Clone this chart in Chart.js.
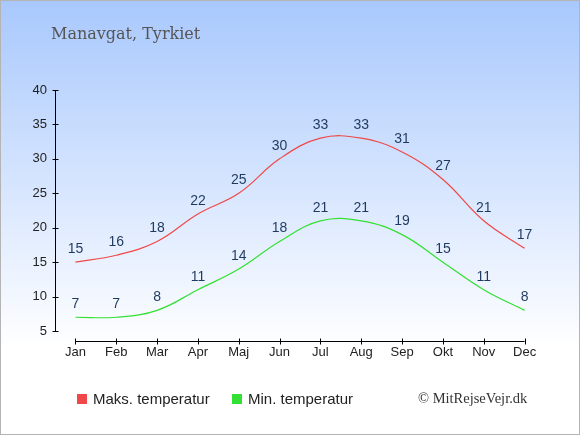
<!DOCTYPE html>
<html>
<head>
<meta charset="utf-8">
<script src="https://cdn.jsdelivr.net/npm/chart.js@4/dist/chart.umd.min.js"></script>
<style>
  html, body { margin: 0; padding: 0; background: #fff; }
  #wrap { width: 580px; height: 435px; }
</style>
</head>
<body>
<div id="wrap"><canvas id="tempChart" width="580" height="435"></canvas></div>
<script>
/* ========= DATA ========= */
const MONTHS = ["Jan", "Feb", "Mar", "Apr", "Maj", "Jun", "Jul", "Aug", "Sep", "Okt", "Nov", "Dec"];
const MAX_TEMP = [15, 16, 18, 22, 25, 30, 33, 33, 31, 27, 21, 17];
const MIN_TEMP = [7, 7, 8, 11, 14, 18, 21, 21, 19, 15, 11, 8];
const Y_TICKS = [5, 10, 15, 20, 25, 30, 35, 40];

const TITLE = "Manavgat, Tyrkiet";
const CREDIT = "\u00A9 MitRejseVejr.dk";

const RED = "#f04848";
const GREEN = "#33e033";
const SANS = "'Liberation Sans', Arial, sans-serif";

/* ========= DECORATION PLUGIN ========= */
const decorPlugin = {
  id: "decor",
  beforeDraw(chart) {
    const ctx = chart.ctx;
    const w = chart.width, h = chart.height;
    const g = ctx.createLinearGradient(0, 0, 0, h);
    g.addColorStop(0, "#a8c8fd");
    g.addColorStop(0.8, "#ffffff");
    g.addColorStop(1, "#ffffff");
    ctx.save();
    ctx.fillStyle = g;
    ctx.fillRect(0, 0, w, h);

    // title
    ctx.fillStyle = "#555555";
    ctx.font = "16px 'DejaVu Serif', serif";
    ctx.textAlign = "left";
    ctx.textBaseline = "alphabetic";
    ctx.fillText(TITLE, 51, 39);
    ctx.restore();
  },
  afterDraw(chart) {
    const ctx = chart.ctx;
    const xs = chart.scales.x;
    const ys = chart.scales.y;
    ctx.save();

    // y axis line + ticks
    const ax = Math.round(chart.chartArea.left) + 0.5;
    ctx.strokeStyle = "#000";
    ctx.lineWidth = 1;
    ctx.beginPath();
    ctx.moveTo(ax, ys.getPixelForValue(40));
    ctx.lineTo(ax, ys.getPixelForValue(5));
    Y_TICKS.forEach(v => {
      const y = Math.round(ys.getPixelForValue(v)) + 0.5;
      ctx.moveTo(ax - 3, y);
      ctx.lineTo(ax + 3, y);
    });
    ctx.stroke();

    // x axis line + ticks (Jan..Dec)
    const ay = Math.round(chart.chartArea.bottom) + 10.5;
    ctx.beginPath();
    ctx.moveTo(xs.getPixelForValue(0), ay);
    ctx.lineTo(xs.getPixelForValue(MONTHS.length - 1), ay);
    MONTHS.forEach((m, i) => {
      const x = Math.round(xs.getPixelForValue(i)) + 0.5;
      ctx.moveTo(x, ay - 3);
      ctx.lineTo(x, ay + 3);
    });
    ctx.stroke();

    // legend
    ctx.font = "15px " + SANS;
    ctx.textBaseline = "alphabetic";
    ctx.textAlign = "left";
    const legendX = [77, 232];
    chart.data.datasets.forEach((ds, i) => {
      ctx.fillStyle = ds.borderColor;
      ctx.fillRect(legendX[i], 394, 10, 10);
      ctx.fillStyle = "#222";
      ctx.fillText(ds.label, legendX[i] + 16, 404);
    });

    // credit
    ctx.fillStyle = "#333";
    ctx.font = "14.5px 'Liberation Serif', serif";
    ctx.fillText(CREDIT, 418, 403);

    // border
    ctx.strokeStyle = "#b4b4b4";
    ctx.strokeRect(0.5, 0.5, chart.width - 1, chart.height - 1);
    ctx.restore();
  },
  afterDatasetsDraw(chart) {
    const ctx = chart.ctx;
    ctx.save();
    ctx.font = "14px " + SANS;
    ctx.fillStyle = "#1f3a5f";
    ctx.textAlign = "center";
    ctx.textBaseline = "middle";
    chart.data.datasets.forEach((ds, i) => {
      const meta = chart.getDatasetMeta(i);
      meta.data.forEach((pt, j) => {
        ctx.fillText(String(ds.data[j]), pt.x, pt.y - 13);
      });
    });
    ctx.restore();
  }
};

/* ========= CHART ========= */
const ctx = document.getElementById("tempChart").getContext("2d");

new Chart(ctx, {
  type: "line",
  data: {
    labels: MONTHS,
    datasets: [
      {
        label: "Maks. temperatur",
        data: MAX_TEMP,
        borderColor: RED,
        borderWidth: 1.2,
        pointRadius: 0,
        tension: 0.4,
        fill: false
      },
      {
        label: "Min. temperatur",
        data: MIN_TEMP,
        borderColor: GREEN,
        borderWidth: 1.2,
        pointRadius: 0,
        tension: 0.4,
        fill: false
      }
    ]
  },
  options: {
    responsive: false,
    animation: false,
    events: [],
    layout: { padding: { top: 90, right: 35, left: 0, bottom: 0 } },
    plugins: {
      legend: { display: false },
      title: { display: false },
      tooltip: { enabled: false }
    },
    scales: {
      x: {
        offset: true,
        grid: { display: false, drawTicks: false },
        border: { display: false },
        ticks: {
          color: "#222",
          font: { family: SANS, size: 13 },
          padding: 14,
          maxRotation: 0,
          autoSkip: false
        },
        afterFit(scale) { scale.height = 104; }
      },
      y: {
        min: 5,
        max: 40,
        grid: { display: false, drawTicks: false },
        border: { display: false },
        ticks: {
          stepSize: 5,
          color: "#222",
          font: { family: SANS, size: 13 },
          padding: 8
        },
        afterFit(scale) { scale.width = 55; }
      }
    }
  },
  plugins: [decorPlugin]
});
</script>
</body>
</html>
